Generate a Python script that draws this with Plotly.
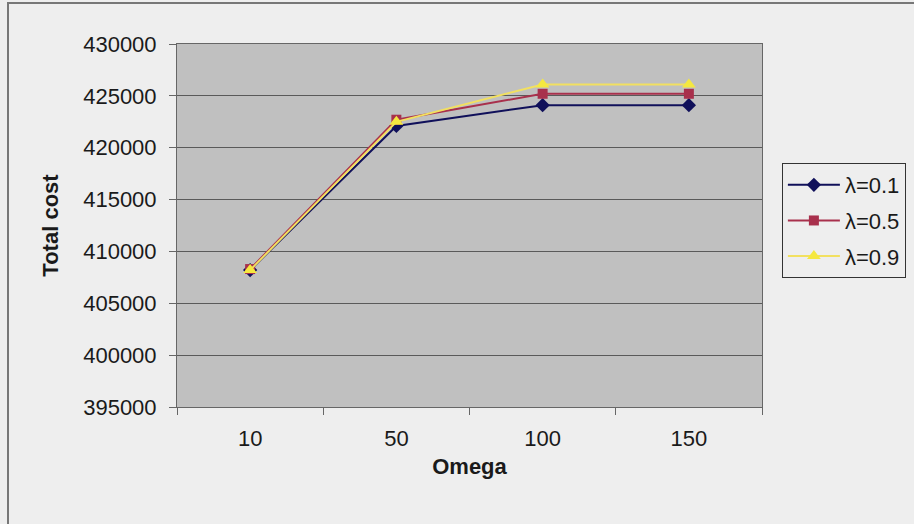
import plotly.graph_objects as go

omega = ["10", "50", "100", "150"]
cost_l01 = [408200, 422100, 424100, 424100]
cost_l05 = [408300, 422700, 425200, 425200]
cost_l09 = [408200, 422500, 426100, 426100]
y_ticks = [395000, 400000, 405000, 410000, 415000, 420000, 425000, 430000]

series = [
    ("λ=0.1", cost_l01, "#10105a", "diamond", 11, "#10105a"),
    ("λ=0.5", cost_l05, "#a8304c", "square", 10, "#a8304c"),
    ("λ=0.9", cost_l09, "#f2e060", "triangle-up", 12, "#f5e840"),
]

fig = go.Figure()
for i, (name, vals, color, sym, size, mcolor) in enumerate(series):
    fig.add_trace(go.Scatter(
        x=omega, y=vals, name=name, mode="lines+markers",
        legendgroup=f"g{i}",
        line=dict(color=color, width=2),
        marker=dict(symbol=sym, size=size, color=mcolor, line=dict(width=0)),
    ))

fig.update_layout(
    width=914, height=524,
    margin=dict(l=177, r=152, t=44, b=117, autoexpand=False),
    paper_bgcolor="#eeeeee",
    plot_bgcolor="#c0c0c0",
    font=dict(family="Liberation Sans, Arial, sans-serif", size=22, color="#1a1a1a"),
    showlegend=True,
    legend=dict(
        x=1.034, y=0.672, xanchor="left", yanchor="top",
        bgcolor="#eeeeee", bordercolor="#333333", borderwidth=1,
        font=dict(size=22, color="#1a1a1a"),
        tracegroupgap=4,
        itemwidth=52,
    ),
    xaxis=dict(
        type="category", range=[-0.5, 3.5], tickson="boundaries",
        ticks="outside", ticklen=7,
        tickcolor="#666666", showline=True, linecolor="#666666", linewidth=1,
        showgrid=False, mirror=True, ticklabelstandoff=12,
        title=dict(text="<b>Omega</b>", font=dict(size=22), standoff=8),
    ),
    yaxis=dict(
        range=[395000, 430000], tickvals=y_ticks, tickformat="d",
        ticks="outside", ticklen=7, ticklabelstandoff=8,
        tickcolor="#666666", showline=True, linecolor="#666666", linewidth=1,
        mirror=True, gridcolor="#5a5a5a", gridwidth=1, zeroline=False,
        title=dict(text="<b>Total cost</b>", font=dict(size=22), standoff=18),
    ),
    shapes=[dict(type="rect", xref="paper", yref="paper",
                 x0=-169 / 585, x1=1.3, y0=-0.35, y1=1 + 41 / 363,
                 line=dict(color="#777777", width=2), fillcolor="rgba(0,0,0,0)",
                 layer="below")],
)

fig.write_html("out.html")
